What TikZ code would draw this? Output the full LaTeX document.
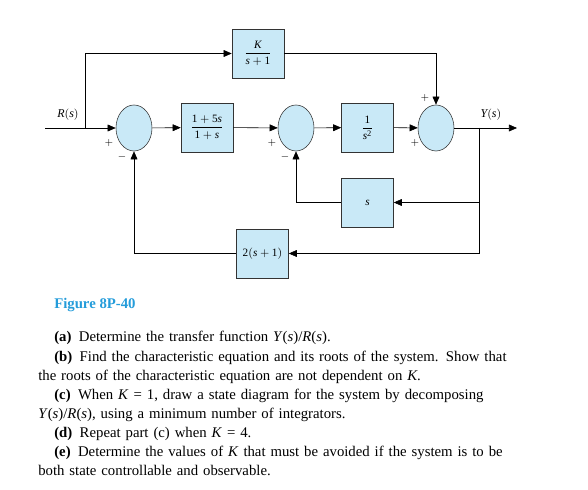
\documentclass[tikz,border=0pt]{standalone}
\usepackage{amsmath}
\usepackage{mathspec}
\setmainfont{Liberation Serif}
\setmathsfont(Digits,Latin)[Scale=MatchLowercase]{Liberation Serif}
\usetikzlibrary{arrows.meta,positioning,shapes.geometric}
\definecolor{blkfill}{RGB}{201,233,247}
\definecolor{figblue}{RGB}{36,156,218}

\begin{document}
\begin{tikzpicture}[x=0.025cm, y=-0.025cm, >={Triangle[length=2mm,width=1.7mm]},
  every node/.style={font=\fontsize{8}{9}\selectfont}]
\tikzset{blk/.style={draw=black!80, fill=blkfill, minimum width=1.3cm, minimum height=1.22cm, inner sep=0pt},
  adder/.style={draw=black!80, fill=blkfill, ellipse, minimum width=0.9cm, minimum height=1.15cm, inner sep=0pt},
  sgn/.style={font=\fontsize{7}{8}\selectfont, inner sep=0pt}}
\useasboundingbox (0,0) rectangle (588,490);
% forward path
\node[adder] (s1) at (134,128) {};
\node[blk] (g1) at (207,127.5) {$\dfrac{1+5s}{1+s}$};
\node[adder] (s2) at (296,128) {};
\node[blk] (g2) at (367.5,127.5) {$\dfrac{1}{s^2}$};
\node[adder] (s3) at (436,128) {};
\node[blk] (gk) at (258,53.5) {$\dfrac{K}{s+1}$};
% feedback blocks
\node[blk] (gs) at (367.5,202.5) {$s$};
\node[blk] (gh) at (262.5,253.5) {$2(s+1)$};
\coordinate (in) at (45,128);
\coordinate (br) at (85,128);
\coordinate (yb) at (479,128);
\coordinate (out) at (517,128);
\node[font=\fontsize{8.5}{9}\selectfont] (rs) at (68,115) {$R(s)$};
\node[font=\fontsize{8.5}{9}\selectfont] (ys) at (491,115) {$Y(s)$};
% signs
\node[sgn] (p1) at (109,143) {$+$};
\node[sgn] (m1) at (122,157) {$-$};
\node[sgn] (p2) at (272,143) {$+$};
\node[sgn] (m2) at (285,157) {$-$};
\node[sgn] (p3) at (425,98) {$+$};
\node[sgn] (p4) at (415,143) {$+$};
% connections
\draw (in) -- (br);
\draw[->] (br) -- (s1);
\draw[->] (br) |- (gk);
\draw[->] (s1) -- (g1);
\draw[->] (g1) -- (s2);
\draw[->] (s2) -- (g2);
\draw[->] (g2) -- (s3);
\draw[->] (gk) -| (s3);
\draw[->] (s3) -- (out);
\draw[->] (yb) |- (gs);
\draw[->] (yb) |- (gh);
\draw[->] (gs) -| (s2);
\draw[->] (gh) -| (s1);
% caption and questions
\node[anchor=base west, inner sep=0pt, text=figblue, font=\fontsize{10.5}{12}\selectfont\bfseries] (cap) at (54,309) {Figure 8P-40};
\node[anchor=base west, inner sep=0pt, text width=13.2cm, align=left, font=\fontsize{10.5}{13.6}\selectfont] (txt) at (38,342)
{\hspace*{0.4cm}\textbf{(a)}\enspace Determine the transfer function \textit{Y}(\textit{s})/\textit{R}(\textit{s}).\\
\hspace*{0.4cm}\textbf{(b)}\enspace Find the characteristic equation and its roots of the system. Show that\\
the roots of the characteristic equation are not dependent on \textit{K}.\\
\hspace*{0.4cm}\textbf{(c)}\enspace When \textit{K} = 1, draw a state diagram for the system by decomposing\\
\textit{Y}(\textit{s})/\textit{R}(\textit{s}), using a minimum number of integrators.\\
\hspace*{0.4cm}\textbf{(d)}\enspace Repeat part (c) when \textit{K} = 4.\\
\hspace*{0.4cm}\textbf{(e)}\enspace Determine the values of \textit{K} that must be avoided if the system is to be\\
both state controllable and observable.};
\end{tikzpicture}
\end{document}
